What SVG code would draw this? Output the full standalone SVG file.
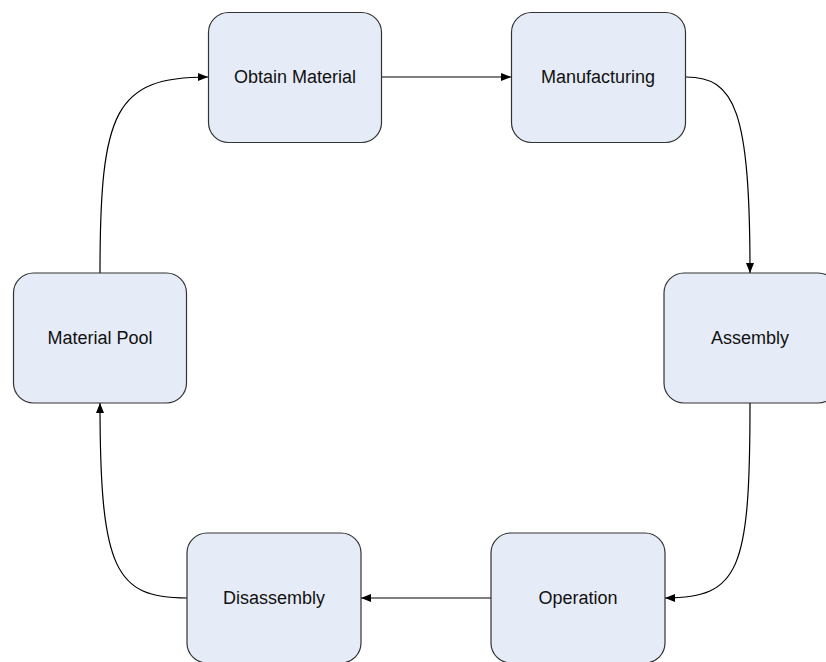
<svg xmlns="http://www.w3.org/2000/svg" width="826" height="662" viewBox="0 0 826 662">
  <style>
    .box { fill: #e6ecf7; stroke: #333333; stroke-width: 1.2; }
    .shade { fill: none; stroke: #888888; stroke-width: 2; }
    .label { font-family: "Liberation Sans", Arial, sans-serif; font-size: 18px; fill: #111111; text-anchor: middle; dominant-baseline: central; }
    .edge { fill: none; stroke: #000000; stroke-width: 1.2; marker-end: url(#arrow); }
  </style>
  <defs>
    <marker id="arrow" viewBox="0 0 10 8" refX="10" refY="4" markerWidth="10" markerHeight="8" markerUnits="userSpaceOnUse" orient="auto">
      <path d="M0,0 L10,4 L0,8 Z" fill="#000000"/>
    </marker>
  </defs>
  <rect width="826" height="662" fill="#ffffff"/>

  <g id="connectors">
    <path class="edge" d="M382,77 L511,77"/>
    <path class="edge" d="M686,77 C735,77 750,110 750,273"/>
    <path class="edge" d="M750,403 C750,570 740,598 665,598"/>
    <path class="edge" d="M491,598 L361,598"/>
    <path class="edge" d="M187,598 C115,598 100,570 100,403"/>
    <path class="edge" d="M100,273 C100,110 115,77 208,77"/>
  </g>

  <g id="obtain-material">
    <rect class="box" x="208.5" y="12.5" width="173" height="130" rx="20"/>
    <text class="label" x="295" y="77">Obtain Material</text>
  </g>
  <g id="manufacturing">
    <rect class="box" x="511.5" y="12.5" width="174" height="130" rx="20"/>
    <text class="label" x="598" y="77">Manufacturing</text>
  </g>
  <g id="assembly">
    <rect class="box" x="664" y="273" width="174" height="130" rx="20"/>
    <text class="label" x="750" y="338">Assembly</text>
  </g>
  <g id="operation">
    <rect class="box" x="491" y="533" width="174" height="130" rx="20"/>
    <text class="label" x="578" y="598">Operation</text>
  </g>
  <g id="disassembly">
    <rect class="box" x="187" y="533" width="174" height="130" rx="20"/>
    <text class="label" x="274" y="598">Disassembly</text>
  </g>
  <g id="material-pool">
    <rect class="box" x="13.5" y="273" width="173" height="130" rx="20"/>
    <text class="label" x="100" y="338">Material Pool</text>
  </g>
</svg>
